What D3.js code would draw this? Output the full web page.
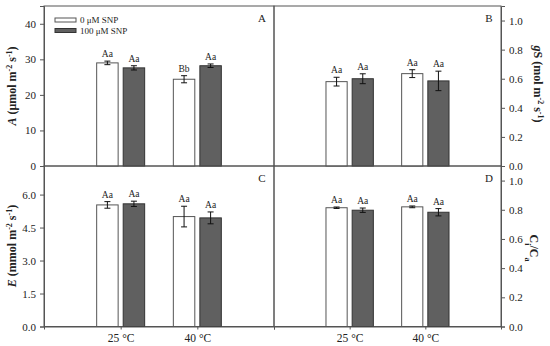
<!DOCTYPE html>
<html>
<head>
<meta charset="utf-8">
<script src="https://cdn.jsdelivr.net/npm/d3@7"></script>
<style>
  body { margin: 0; background: #fff; }
  svg text { font-family: "Liberation Serif", "Times New Roman", serif; fill: #222; }
</style>
</head>
<body>
<div id="chart"></div>
<script>
const w = 550;
const h = 346;

// categories and series
const temps = ["25 °C", "40 °C"];
const treatments = ["0 μM SNP", "100 μM SNP"];

// values ordered: 25 °C (0, 100 μM SNP), 40 °C (0, 100 μM SNP)
const aMean = [29.0, 27.6, 24.4, 28.2];
const aErr = [0.5, 0.6, 1.0, 0.5];
const aLetters = ["Aa", "Aa", "Bb", "Aa"];

const gsMean = [0.58, 0.60, 0.635, 0.585];
const gsErr = [0.03, 0.034, 0.027, 0.067];
const gsLetters = ["Aa", "Aa", "Aa", "Aa"];

const eMean = [5.53, 5.58, 5.0, 4.94];
const eErr = [0.15, 0.12, 0.47, 0.27];
const eLetters = ["Aa", "Aa", "Aa", "Aa"];

const ciMean = [0.814, 0.797, 0.82, 0.783];
const ciErr = [0.005, 0.015, 0.006, 0.025];
const ciLetters = ["Aa", "Aa", "Aa", "Aa"];

// tick labels
const aTicks = [0, 10, 20, 30, 40];
const gsTicks = [0, 0.2, 0.4, 0.6, 0.8, 1.0];
const eTicks = [0, 1.5, 3.0, 4.5, 6.0];
const ciTicks = [0, 0.2, 0.4, 0.6, 0.8, 1.0];

const fills = ["#ffffff", "#606060"];
const strokes = ["#555", "#333"];

const svg = d3.select("#chart")
  .append("svg")
  .attr("width", w)
  .attr("height", h);

const top0 = 6, mid = 166, bot = 326.5;
const left0 = 44, split = 274, right0 = 501;

const panels = [
  { id: "A", mean: aMean, err: aErr, letters: aLetters, ticks: aTicks, max: 45, fmt: d3.format("d"),
    x0: left0, x1: split, y0: top0, y1: mid, side: "left", bottomAxis: false },
  { id: "B", mean: gsMean, err: gsErr, letters: gsLetters, ticks: gsTicks, max: 1.1, fmt: d3.format(".1f"),
    x0: split, x1: right0, y0: top0, y1: mid, side: "right", bottomAxis: false },
  { id: "C", mean: eMean, err: eErr, letters: eLetters, ticks: eTicks, max: 7.3, fmt: d3.format(".1f"),
    x0: left0, x1: split, y0: mid, y1: bot, side: "left", bottomAxis: true },
  { id: "D", mean: ciMean, err: ciErr, letters: ciLetters, ticks: ciTicks, max: 1.1, fmt: d3.format(".1f"),
    x0: split, x1: right0, y0: mid, y1: bot, side: "right", bottomAxis: true }
];

const barW = 0.28;
const gap = 0.033;

panels.forEach(p => {
  const g = svg.append("g");

  const xScale = d3.scaleLinear().domain([0, 3]).range([p.x0, p.x1]);
  const yScale = d3.scaleLinear().domain([0, p.max]).range([p.y1, p.y0]);

  // frame
  g.append("rect")
    .attr("x", p.x0)
    .attr("y", p.y0)
    .attr("width", p.x1 - p.x0)
    .attr("height", p.y1 - p.y0)
    .attr("fill", "none")
    .attr("stroke", "#555")
    .attr("stroke-width", 1);

  const bars = p.mean.map((v, i) => {
    const grp = Math.floor(i / 2);
    const s = i % 2;
    const c = grp + 1;
    const xl = s === 0 ? c - gap - barW : c + gap;
    return { v: v, e: p.err[i], lab: p.letters[i], s: s, xl: xl };
  });

  g.selectAll("rect.bar")
    .data(bars)
    .enter()
    .append("rect")
    .attr("class", "bar")
    .attr("x", d => xScale(d.xl))
    .attr("width", d => xScale(d.xl + barW) - xScale(d.xl))
    .attr("y", d => yScale(d.v))
    .attr("height", d => yScale(0) - yScale(d.v))
    .attr("fill", d => fills[d.s])
    .attr("stroke", d => strokes[d.s])
    .attr("stroke-width", 1);

  // error bars
  const eb = g.selectAll("g.err")
    .data(bars)
    .enter()
    .append("g")
    .attr("class", "err")
    .attr("stroke", "#111")
    .attr("stroke-width", 1);
  eb.append("line")
    .attr("x1", d => xScale(d.xl + barW / 2))
    .attr("x2", d => xScale(d.xl + barW / 2))
    .attr("y1", d => yScale(d.v - d.e))
    .attr("y2", d => yScale(d.v + d.e));
  [-1, 1].forEach(k => {
    eb.append("line")
      .attr("x1", d => xScale(d.xl + barW / 2) - 3)
      .attr("x2", d => xScale(d.xl + barW / 2) + 3)
      .attr("y1", d => yScale(d.v + k * d.e))
      .attr("y2", d => yScale(d.v + k * d.e));
  });

  g.selectAll("text.sig")
    .data(bars)
    .enter()
    .append("text")
    .attr("class", "sig")
    .attr("x", d => xScale(d.xl + barW / 2))
    .attr("y", d => yScale(d.v + d.e) - 4)
    .attr("text-anchor", "middle")
    .style("font-size", "9.5px")
    .text(d => d.lab);

  // y axis
  const yAxis = (p.side === "left" ? d3.axisLeft(yScale) : d3.axisRight(yScale))
    .tickValues(p.ticks)
    .tickFormat(p.fmt)
    .tickSizeOuter(0)
    .tickSize(4)
    .tickPadding(4);
  const ya = g.append("g")
    .attr("transform", "translate(" + (p.side === "left" ? p.x0 : p.x1) + ",0)")
    .call(yAxis);
  ya.select(".domain").attr("stroke", "#555");
  ya.selectAll(".tick line").attr("stroke", "#555");
  ya.selectAll(".tick text")
    .style("font-family", "Liberation Serif, serif")
    .style("font-size", "11px")
    .attr("fill", "#222");

  // x axis
  if (p.bottomAxis) {
    const xAxis = d3.axisBottom(xScale)
      .tickValues([1, 2])
      .tickFormat((d, i) => temps[i])
      .tickSizeOuter(0)
      .tickSize(3)
      .tickPadding(4);
    const xa = g.append("g")
      .attr("transform", "translate(0," + p.y1 + ")")
      .call(xAxis);
    xa.select(".domain").attr("stroke", "#555");
    xa.selectAll(".tick line").attr("stroke", "#555");
    xa.selectAll(".tick text")
      .style("font-family", "Liberation Serif, serif")
      .style("font-size", "11.5px")
      .attr("fill", "#222");
  }

  // panel letter
  g.append("text")
    .attr("x", p.x1 - 12)
    .attr("y", p.y0 + 16)
    .attr("text-anchor", "middle")
    .style("font-size", "11px")
    .text(p.id);
});

// legend
const legend = svg.append("g");
treatments.forEach((t, i) => {
  legend.append("rect")
    .attr("x", 55)
    .attr("y", 18 + i * 10.5)
    .attr("width", 21)
    .attr("height", 4)
    .attr("fill", fills[i])
    .attr("stroke", strokes[i]);
  legend.append("text")
    .attr("x", 80)
    .attr("y", 23 + i * 10.5)
    .style("font-size", "9px")
    .text(t);
});

// axis titles
function sup(sel, txt) {
  sel.append("tspan").attr("baseline-shift", "super").style("font-size", "8px").text(txt);
}

const tA = svg.append("text")
  .attr("transform", "translate(16,86) rotate(-90)")
  .attr("text-anchor", "middle")
  .style("font-size", "12px")
  .style("font-weight", "bold");
tA.append("tspan").style("font-style", "italic").text("A");
tA.append("tspan").text(" (μmol m");
sup(tA, "-2");
tA.append("tspan").text(" s");
sup(tA, "-1");
tA.append("tspan").text(")");

const tE = svg.append("text")
  .attr("transform", "translate(16,246) rotate(-90)")
  .attr("text-anchor", "middle")
  .style("font-size", "12px")
  .style("font-weight", "bold");
tE.append("tspan").style("font-style", "italic").text("E");
tE.append("tspan").text(" (mmol m");
sup(tE, "-2");
tE.append("tspan").text(" s");
sup(tE, "-1");
tE.append("tspan").text(")");

const tG = svg.append("text")
  .attr("transform", "translate(534,84) rotate(90)")
  .attr("text-anchor", "middle")
  .style("font-size", "12px")
  .style("font-weight", "bold");
tG.append("tspan").style("font-style", "italic").text("g");
tG.append("tspan").text("S (mol m");
sup(tG, "-2");
tG.append("tspan").text(" s");
sup(tG, "-1");
tG.append("tspan").text(")");

const tC = svg.append("text")
  .attr("transform", "translate(530,248) rotate(90)")
  .attr("text-anchor", "middle")
  .style("font-size", "12px")
  .style("font-weight", "bold");
tC.append("tspan").text("C");
tC.append("tspan").attr("baseline-shift", "sub").style("font-size", "8px").text("i");
tC.append("tspan").text("/C");
tC.append("tspan").attr("baseline-shift", "sub").style("font-size", "8px").text("a");
</script>
</body>
</html>
